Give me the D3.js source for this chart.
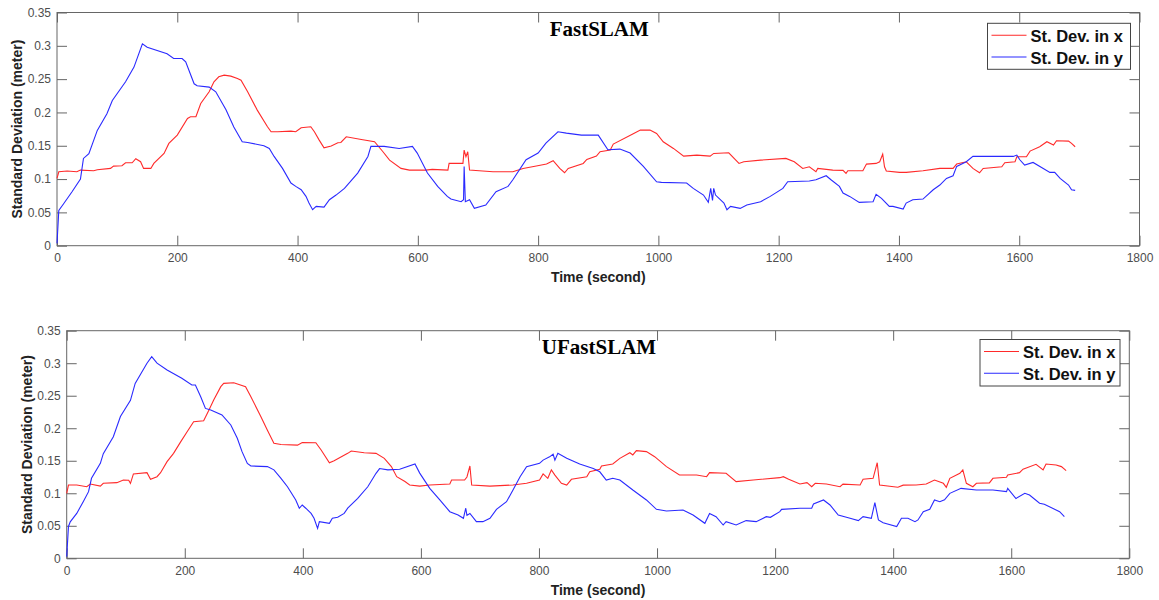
<!DOCTYPE html>
<html>
<head>
<meta charset="utf-8">
<script src="https://cdn.jsdelivr.net/npm/d3@7"></script>
<style>
  body { margin: 0; background: #fff; }
  .tick text { font-family: Arial, "Liberation Sans", sans-serif; font-size: 12px; fill: #4d4d4d; }
  .tick line { stroke: #666; }
</style>
</head>
<body>
<div id="chart"></div>
<script>
const width = 1159, height = 600;

// tick values
const xTicks = [0, 200, 400, 600, 800, 1000, 1200, 1400, 1600, 1800];
const yTicks = [0, 0.05, 0.1, 0.15, 0.2, 0.25, 0.3, 0.35];
const legendLabels = ["St. Dev. in x", "St. Dev. in y"];
const titles = ["FastSLAM", "UFastSLAM"];

// FastSLAM, st. dev. in x  [time, value]
const fastX = [[0,0.101],[3,0.111],[17,0.112],[33,0.111],[39,0.1135],[61,0.1125],[67,0.114],[89,0.116],[94,0.1195],[108,0.12],[114,0.1245],[125,0.1245],[131,0.1305],[139,0.126],[144,0.116],[156,0.116],[161,0.1235],[178,0.1385],[186,0.1535],[200,0.166],[217,0.191],[222,0.1935],[231,0.1935],[239,0.2135],[253,0.231],[261,0.246],[269,0.2535],[278,0.256],[289,0.2545],[300,0.251],[306,0.2485],[317,0.231],[333,0.2035],[350,0.1785],[356,0.171],[367,0.171],[389,0.172],[397,0.171],[406,0.177],[422,0.1785],[428,0.171],[436,0.1585],[444,0.147],[456,0.1495],[467,0.1545],[472,0.155],[481,0.1635],[506,0.1595],[528,0.156],[542,0.141],[553,0.1285],[572,0.116],[586,0.1135],[613,0.1135],[624,0.1145],[650,0.1135],[652,0.1235],[675,0.1235],[677,0.1435],[680,0.1335],[683,0.141],[686,0.1135],[702,0.1125],[725,0.111],[758,0.111],[775,0.116],[797,0.1195],[814,0.1225],[825,0.1275],[836,0.116],[844,0.1095],[850,0.116],[875,0.1235],[881,0.1295],[897,0.1345],[903,0.141],[920,0.1435],[925,0.1525],[959,0.1685],[970,0.1735],[986,0.1735],[997,0.1685],[1008,0.156],[1025,0.146],[1042,0.1345],[1064,0.136],[1086,0.1345],[1092,0.1385],[1117,0.1395],[1134,0.1235],[1142,0.126],[1170,0.1285],[1212,0.131],[1226,0.126],[1240,0.116],[1251,0.1185],[1262,0.111],[1265,0.116],[1290,0.1135],[1307,0.113],[1312,0.1085],[1315,0.1125],[1340,0.1125],[1346,0.1225],[1362,0.1235],[1368,0.126],[1373,0.1375],[1376,0.1185],[1379,0.112],[1401,0.11],[1412,0.11],[1440,0.1125],[1468,0.116],[1490,0.116],[1496,0.1225],[1512,0.126],[1523,0.116],[1534,0.1095],[1540,0.116],[1571,0.1185],[1576,0.1245],[1593,0.126],[1596,0.1335],[1612,0.1335],[1618,0.142],[1634,0.1485],[1646,0.156],[1657,0.151],[1662,0.1575],[1682,0.157],[1687,0.1535],[1693,0.1485]];

// FastSLAM, st. dev. in y
const fastY = [[0,0.0035],[3,0.053],[11,0.063],[25,0.081],[39,0.1],[44,0.131],[53,0.138],[67,0.173],[83,0.198],[92,0.218],[114,0.246],[128,0.268],[142,0.303],[150,0.298],[183,0.288],[194,0.281],[208,0.281],[214,0.276],[228,0.243],[233,0.24],[253,0.238],[264,0.231],[281,0.204],[294,0.178],[308,0.156],[317,0.155],[344,0.15],[353,0.146],[361,0.134],[375,0.116],[389,0.094],[397,0.089],[406,0.084],[414,0.074],[419,0.064],[425,0.054],[431,0.059],[444,0.058],[453,0.069],[464,0.076],[478,0.086],[500,0.109],[517,0.134],[522,0.149],[544,0.149],[569,0.146],[591,0.149],[599,0.139],[616,0.109],[633,0.089],[649,0.074],[655,0.07],[672,0.066],[676,0.069],[677,0.119],[679,0.066],[686,0.069],[694,0.056],[713,0.061],[730,0.081],[750,0.089],[758,0.099],[780,0.129],[800,0.139],[813,0.154],[833,0.171],[847,0.169],[872,0.166],[900,0.166],[916,0.144],[936,0.145],[953,0.139],[975,0.119],[997,0.096],[1005,0.095],[1047,0.094],[1058,0.086],[1075,0.076],[1083,0.065],[1087,0.086],[1090,0.068],[1092,0.086],[1095,0.076],[1109,0.064],[1114,0.054],[1120,0.059],[1136,0.056],[1147,0.061],[1170,0.066],[1186,0.074],[1207,0.086],[1215,0.096],[1251,0.097],[1262,0.099],[1279,0.105],[1287,0.099],[1301,0.089],[1307,0.079],[1318,0.074],[1334,0.065],[1357,0.066],[1362,0.077],[1371,0.071],[1384,0.059],[1390,0.059],[1407,0.055],[1412,0.064],[1423,0.069],[1440,0.07],[1457,0.084],[1468,0.091],[1479,0.101],[1490,0.105],[1496,0.119],[1512,0.126],[1523,0.134],[1562,0.134],[1590,0.134],[1596,0.136],[1601,0.129],[1609,0.121],[1623,0.125],[1640,0.116],[1651,0.11],[1659,0.11],[1668,0.101],[1682,0.091],[1687,0.084],[1693,0.083]];

// UFastSLAM, st. dev. in x
const ufastX = [[0,0.0999],[3,0.1127],[17,0.1127],[34,0.11],[40,0.1143],[57,0.111],[62,0.1153],[85,0.1163],[96,0.1204],[105,0.12],[108,0.1153],[113,0.1297],[136,0.1317],[142,0.1215],[153,0.1255],[159,0.1317],[170,0.1486],[181,0.1614],[193,0.179],[204,0.1947],[215,0.21],[232,0.2116],[241,0.228],[249,0.2434],[261,0.264],[266,0.269],[283,0.27],[303,0.264],[312,0.2485],[329,0.2178],[340,0.197],[351,0.1768],[363,0.175],[391,0.174],[399,0.178],[422,0.1778],[431,0.1665],[445,0.147],[453,0.15],[476,0.1614],[482,0.165],[504,0.1624],[524,0.1614],[538,0.1537],[550,0.141],[559,0.1255],[573,0.118],[581,0.1127],[598,0.111],[615,0.1127],[649,0.1143],[652,0.1204],[674,0.1204],[678,0.125],[683,0.142],[686,0.1127],[717,0.111],[756,0.1127],[779,0.1153],[801,0.1204],[807,0.1297],[815,0.123],[821,0.136],[827,0.128],[838,0.1153],[847,0.1127],[855,0.1215],[881,0.1255],[886,0.133],[903,0.137],[906,0.142],[925,0.145],[937,0.1537],[954,0.1624],[959,0.159],[965,0.1655],[982,0.164],[996,0.1563],[1016,0.141],[1038,0.128],[1067,0.128],[1084,0.1255],[1089,0.1317],[1117,0.1307],[1134,0.118],[1163,0.1204],[1208,0.124],[1214,0.1255],[1223,0.1215],[1242,0.1143],[1254,0.1163],[1262,0.11],[1268,0.1153],[1287,0.1143],[1310,0.11],[1315,0.114],[1344,0.1127],[1349,0.1215],[1366,0.123],[1373,0.147],[1377,0.1127],[1408,0.1092],[1417,0.1125],[1439,0.1127],[1456,0.1143],[1470,0.1204],[1485,0.1153],[1490,0.1092],[1496,0.123],[1513,0.1307],[1518,0.136],[1524,0.1153],[1535,0.11],[1541,0.1153],[1563,0.116],[1569,0.123],[1592,0.1245],[1594,0.128],[1614,0.1317],[1620,0.137],[1642,0.1445],[1654,0.136],[1659,0.145],[1676,0.1435],[1685,0.141],[1693,0.1348]];

// UFastSLAM, st. dev. in y
const ufastY = [[0,0.0026],[3,0.049],[6,0.056],[17,0.069],[28,0.087],[37,0.1025],[42,0.123],[57,0.146],[62,0.161],[79,0.187],[91,0.218],[108,0.243],[116,0.269],[136,0.3],[144,0.31],[153,0.3],[170,0.2895],[195,0.277],[212,0.2665],[218,0.2665],[227,0.2485],[235,0.2305],[244,0.228],[263,0.2205],[278,0.205],[289,0.1845],[297,0.164],[306,0.146],[312,0.142],[340,0.141],[351,0.136],[363,0.123],[374,0.11],[388,0.0897],[394,0.0769],[399,0.082],[405,0.077],[414,0.069],[419,0.0615],[425,0.046],[428,0.0564],[445,0.0538],[450,0.0615],[459,0.063],[470,0.069],[476,0.077],[493,0.092],[510,0.11],[524,0.1307],[530,0.138],[544,0.136],[564,0.137],[590,0.145],[598,0.131],[615,0.1076],[632,0.0897],[649,0.0717],[663,0.0666],[672,0.0615],[676,0.077],[678,0.066],[683,0.069],[694,0.0564],[705,0.0564],[717,0.0615],[728,0.0753],[745,0.087],[756,0.105],[768,0.1255],[779,0.141],[801,0.146],[807,0.151],[818,0.156],[824,0.16],[827,0.151],[832,0.1614],[847,0.1537],[869,0.145],[892,0.138],[903,0.133],[914,0.1204],[925,0.123],[937,0.1204],[959,0.105],[982,0.0897],[999,0.0753],[1016,0.0728],[1044,0.0743],[1061,0.0666],[1081,0.0538],[1089,0.069],[1100,0.064],[1112,0.0512],[1117,0.0564],[1134,0.0512],[1151,0.058],[1168,0.0564],[1185,0.064],[1192,0.063],[1208,0.0717],[1211,0.0753],[1242,0.0769],[1262,0.077],[1265,0.0835],[1282,0.0897],[1293,0.082],[1307,0.0666],[1327,0.0615],[1341,0.058],[1349,0.064],[1363,0.0615],[1369,0.0856],[1375,0.059],[1383,0.0548],[1406,0.0487],[1414,0.0615],[1425,0.0615],[1437,0.0564],[1442,0.059],[1451,0.0717],[1462,0.0753],[1470,0.0897],[1479,0.087],[1487,0.09],[1496,0.0999],[1515,0.1076],[1541,0.105],[1569,0.105],[1592,0.1025],[1594,0.1076],[1608,0.092],[1623,0.0999],[1631,0.0974],[1648,0.0846],[1656,0.083],[1670,0.0769],[1682,0.0717],[1690,0.064]];

const colors = ["#ff2a2a", "#2a2aff"];

const panels = [
  { title: titles[0], series: [fastX, fastY], left: 57, right: 1139.5, top: 12.5, bottom: 245.7,
    legend: { x: 987.5, y: 23.3, w: 143, h: 46 } },
  { title: titles[1], series: [ufastX, ufastY], left: 66.7, right: 1129.3, top: 330.7, bottom: 558.3,
    legend: { x: 980, y: 339.5, w: 140, h: 46.5 } }
];

const svg = d3.select("#chart").append("svg")
    .attr("width", width)
    .attr("height", height)
    .style("font-family", "Arial, 'Liberation Sans', sans-serif");

panels.forEach(function (p) {
  const x = d3.scaleLinear().domain([0, 1800]).range([p.left, p.right]);
  const y = d3.scaleLinear().domain([0, 0.35]).range([p.bottom, p.top]);
  const g = svg.append("g");

  // axes, ticks pointing inward like matlab
  g.append("g").attr("transform", "translate(0," + p.bottom + ")")
      .call(d3.axisBottom(x).tickValues(xTicks).tickSizeInner(-10).tickSizeOuter(0).tickPadding(8)
        .tickFormat(d3.format("d")))
      .call(a => a.select(".domain").remove());
  g.append("g").attr("transform", "translate(0," + p.top + ")")
      .call(d3.axisTop(x).tickValues(xTicks).tickSizeInner(-10).tickSizeOuter(0).tickFormat(""))
      .call(a => a.select(".domain").remove());
  g.append("g").attr("transform", "translate(" + p.left + ",0)")
      .call(d3.axisLeft(y).tickValues(yTicks).tickSizeInner(-10).tickSizeOuter(0).tickPadding(6)
        .tickFormat(d => String(+d.toFixed(2))))
      .call(a => a.select(".domain").remove());
  g.append("g").attr("transform", "translate(" + p.right + ",0)")
      .call(d3.axisRight(y).tickValues(yTicks).tickSizeInner(-10).tickSizeOuter(0).tickFormat(""))
      .call(a => a.select(".domain").remove());

  g.append("rect")
      .attr("x", p.left).attr("y", p.top)
      .attr("width", p.right - p.left).attr("height", p.bottom - p.top)
      .attr("fill", "none").attr("stroke", "#666").attr("stroke-width", 1);

  const line = d3.line().x(d => x(d[0])).y(d => y(d[1]));
  p.series.forEach(function (s, i) {
    g.append("path").datum(s)
        .attr("d", line)
        .attr("fill", "none")
        .attr("stroke", colors[i])
        .attr("stroke-width", 1.1);
  });

  // title
  g.append("text")
      .attr("x", (p.left + p.right) / 2 + 1)
      .attr("y", p.top + 23)
      .attr("text-anchor", "middle")
      .style("font-family", "'Liberation Serif', 'Times New Roman', serif")
      .style("font-weight", "bold")
      .style("font-size", "21px")
      .text(p.title);

  // axis labels
  g.append("text")
      .attr("x", (p.left + p.right) / 2)
      .attr("y", p.bottom + 36.5)
      .attr("text-anchor", "middle")
      .style("font-weight", "bold").style("font-size", "14px").attr("fill", "#222")
      .text("Time (second)");
  g.append("text")
      .attr("transform", "translate(" + (p.left - 35) + "," + ((p.top + p.bottom) / 2) + ") rotate(-90)")
      .attr("text-anchor", "middle")
      .style("font-weight", "bold").style("font-size", "14px").attr("fill", "#222")
      .text("Standard Deviation (meter)");

  // legend
  const L = p.legend;
  const lg = g.append("g");
  lg.append("rect").attr("x", L.x).attr("y", L.y).attr("width", L.w).attr("height", L.h)
      .attr("fill", "#fff").attr("stroke", "#444").attr("stroke-width", 1);
  legendLabels.forEach(function (lab, i) {
    const cy = L.y + 12 + i * 21.7;
    lg.append("line")
        .attr("x1", L.x + 4).attr("x2", L.x + 39)
        .attr("y1", cy).attr("y2", cy)
        .attr("stroke", colors[i]).attr("stroke-width", 1.1);
    lg.append("text")
        .attr("x", L.x + 43).attr("y", cy + 6.5)
        .style("font-weight", "bold").style("font-size", "16.5px").attr("fill", "#111")
        .text(lab);
  });
});
</script>
</body>
</html>
